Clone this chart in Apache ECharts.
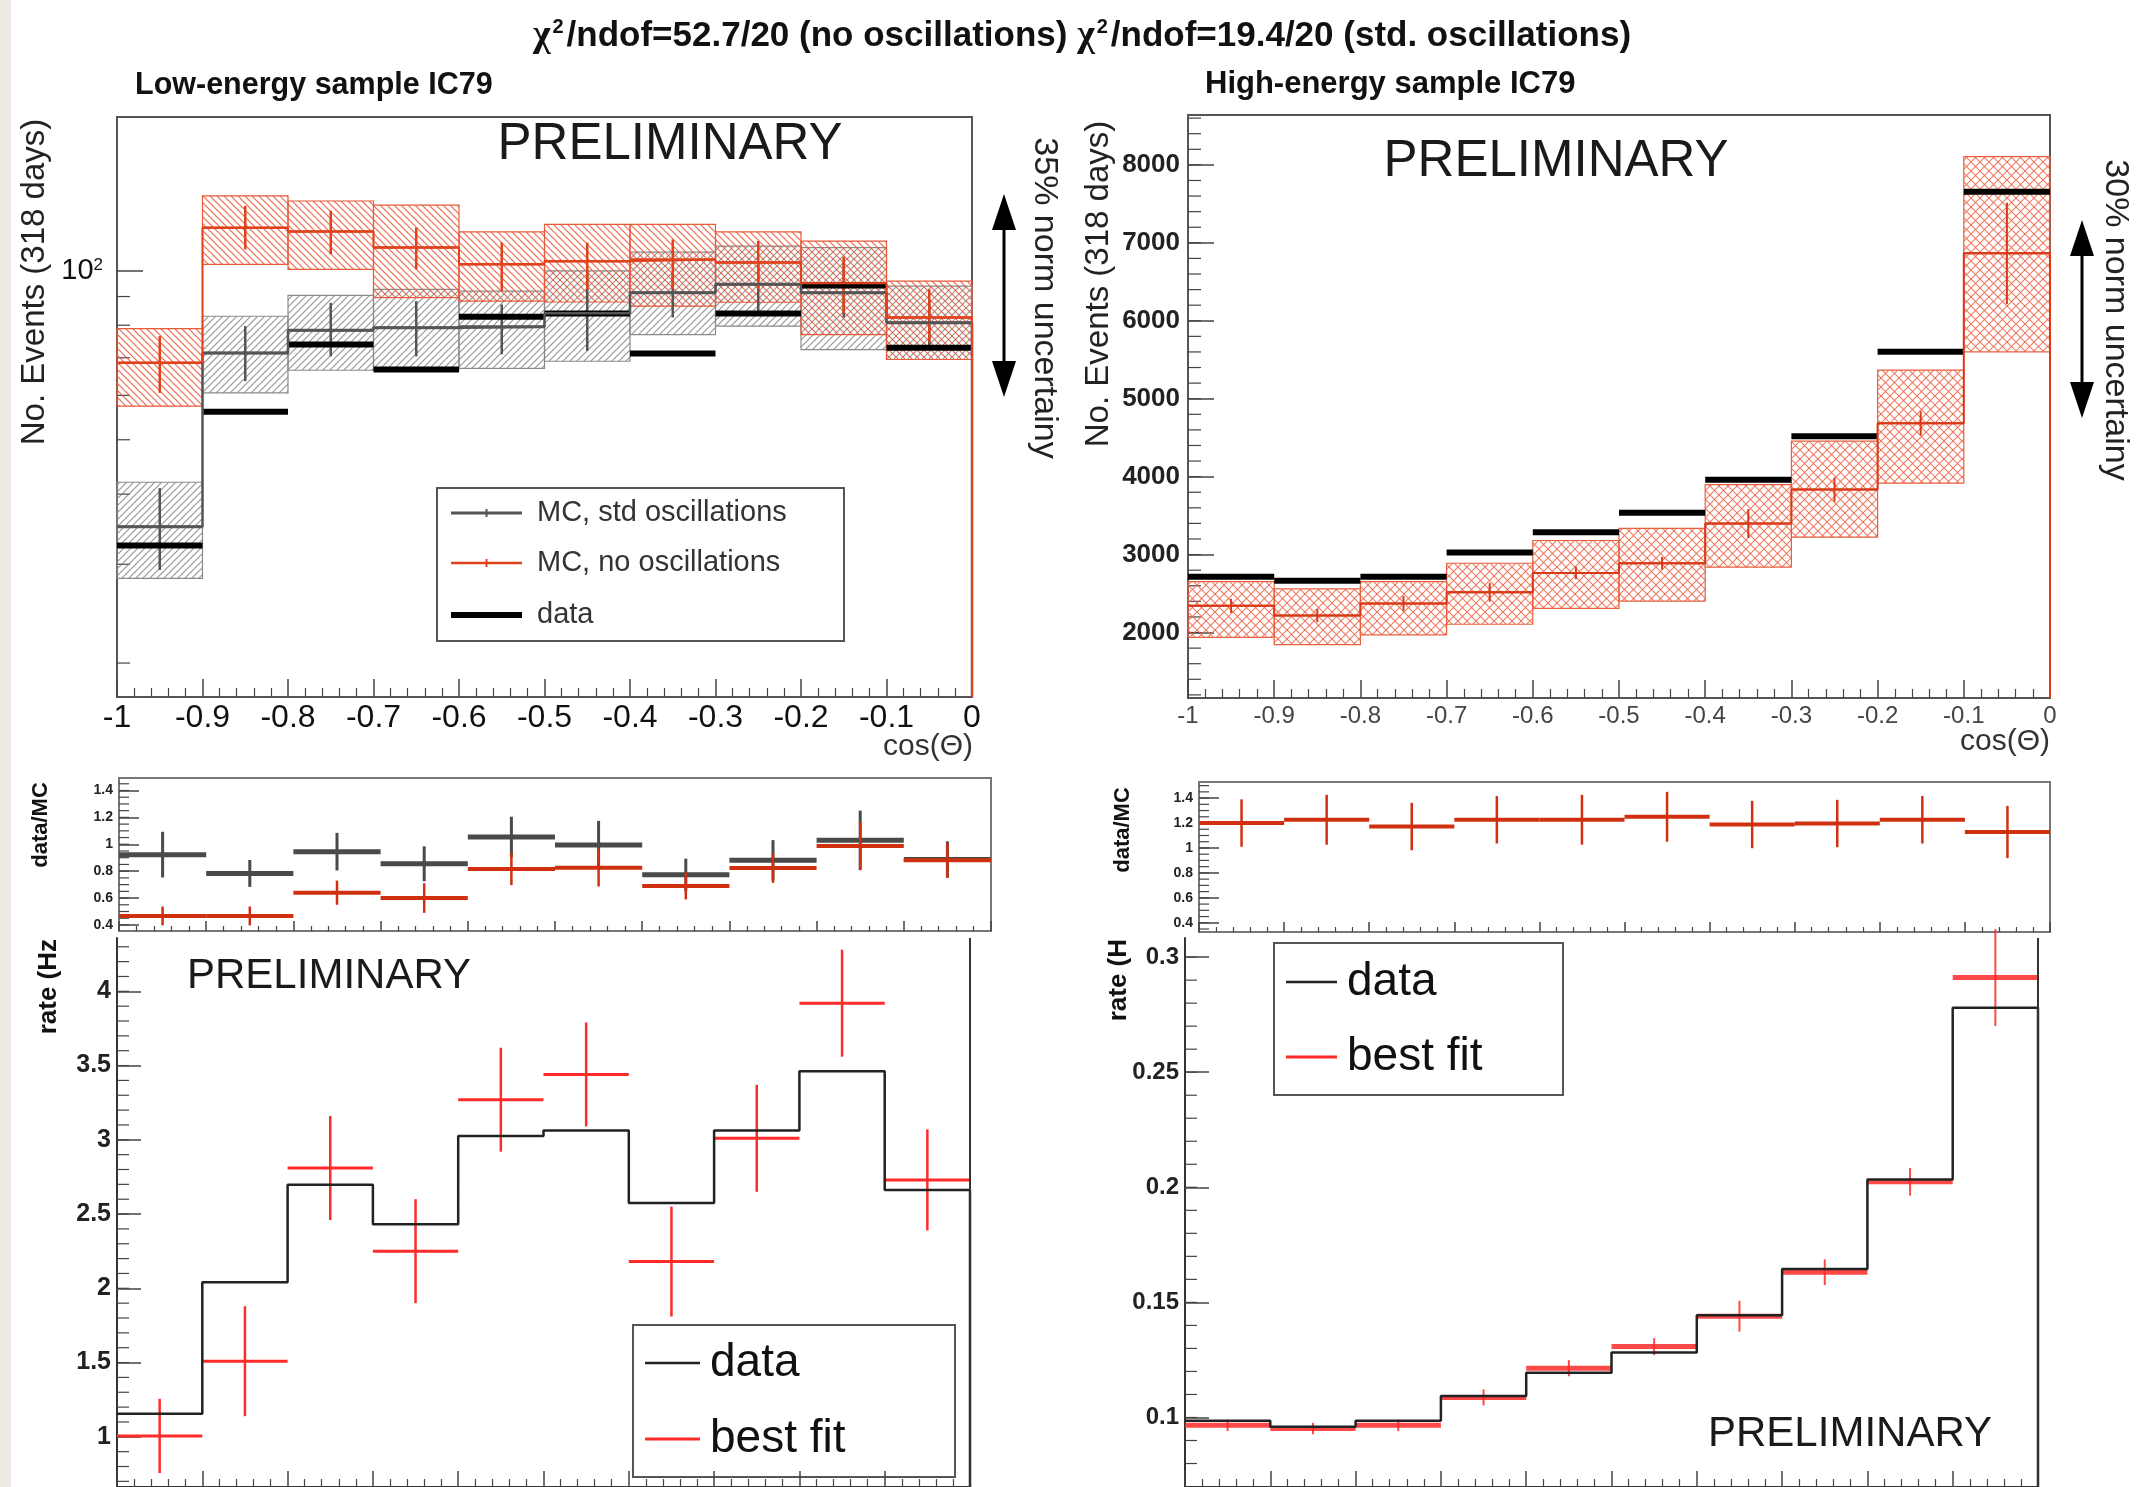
<!DOCTYPE html>
<html>
<head>
<meta charset="utf-8">
<title>IC79 zenith distributions</title>
<script src="https://cdn.jsdelivr.net/npm/echarts@6/dist/echarts.min.js"></script>
<style>
  html, body { margin: 0; padding: 0; background: #fff; }
  #chart { width: 2143px; height: 1487px; }
</style>
</head>
<body>
<div id="chart"></div>
<script>
// bin edges in cos(theta), shared by every panel
const binEdges = [-1, -0.9, -0.8, -0.7, -0.6, -0.5, -0.4, -0.3, -0.2, -0.1, 0];

// low-energy sample IC79 (events, log axis)
const lowData = [32.4, 56.1, 73.9, 66.7, 82.8, 83.9, 71.2, 83.9, 94.2, 72.9];
const lowStd = [35.0, 71.4, 78.4, 79.2, 79.5, 84.0, 91.4, 94.6, 91.4, 80.8];
const lowStdErrLo = [29.3, 63.6, 70.4, 70.4, 71.0, 72.0, 82.6, 84.3, 82.6, 73.5];
const lowStdErrHi = [41.0, 79.7, 87.7, 88.3, 87.1, 99.0, 99.0, 103.5, 103.5, 88.5];
const lowStdBandLo = [28.3, 60.6, 66.5, 66.5, 67.0, 69.0, 77.0, 79.7, 72.4, 69.5];
const lowStdBandHi = [42.0, 83.0, 90.4, 92.7, 92.0, 100.0, 108.0, 110.7, 110.0, 93.9];
const lowNoOsc = [68.6, 119.4, 117.5, 110.0, 102.7, 104.0, 104.8, 103.5, 95.0, 82.6];
const lowNoOscErrLo = [60.6, 109.2, 107.0, 100.6, 92.0, 92.7, 92.7, 92.7, 84.0, 74.5];
const lowNoOscErrHi = [76.5, 130.5, 128.0, 119.4, 112.3, 112.3, 113.8, 113.0, 106.0, 92.7];
const lowNoOscBandLo = [57.4, 102.7, 100.6, 89.6, 88.3, 88.0, 86.5, 87.9, 77.0, 69.5];
const lowNoOscBandHi = [78.9, 136.0, 133.2, 130.9, 117.3, 121.0, 121.0, 117.3, 113.0, 95.9];
const lowYLabels = [100];
const lowYMinor = [20, 30, 40, 50, 60, 70, 80, 90];

// high-energy sample IC79 (events)
const highData = [2715, 2665, 2715, 3026, 3287, 3536, 3959, 4518, 5602, 7655];
const highMc = [2342, 2218, 2373, 2516, 2765, 2889, 3399, 3834, 4684, 6865];
const highMcErr = [90, 85, 95, 120, 80, 80, 185, 155, 155, 650];
const highBandLo = [1938, 1845, 1969, 2106, 2311, 2404, 2839, 3225, 3918, 5602];
const highBandHi = [2653, 2560, 2653, 2889, 3181, 3337, 3897, 4456, 5367, 8106];
const highYLabels = [2000, 3000, 4000, 5000, 6000, 7000, 8000];

// data/MC ratios
const ratioLowStd = [0.923, 0.783, 0.945, 0.855, 1.055, 0.994, 0.773, 0.881, 1.03, 0.887];
const ratioLowStdErr = [0.17, 0.1, 0.14, 0.13, 0.15, 0.18, 0.12, 0.15, 0.22, 0.135];
const ratioLowNo = [0.467, 0.467, 0.64, 0.6, 0.816, 0.826, 0.69, 0.823, 0.987, 0.881];
const ratioLowNoErr = [0.07, 0.07, 0.09, 0.11, 0.12, 0.14, 0.1, 0.11, 0.18, 0.13];
const ratioHigh = [1.2, 1.226, 1.172, 1.226, 1.226, 1.25, 1.188, 1.196, 1.226, 1.128];
const ratioHighErr = [0.19, 0.2, 0.19, 0.19, 0.2, 0.2, 0.19, 0.19, 0.19, 0.21];
const ratioYLabels = [0.4, 0.6, 0.8, 1, 1.2, 1.4];

// rates (Hz)
const rateLowData = [1.156, 2.04, 2.697, 2.431, 3.025, 3.0625, 2.575, 3.0625, 3.4625, 2.6625];
const rateLowFit = [1.006, 1.509, 2.81, 2.25, 3.27, 3.44, 2.18, 3.01, 3.92, 2.73];
const rateLowFitErr = [0.25, 0.37, 0.35, 0.35, 0.35, 0.35, 0.37, 0.36, 0.36, 0.34];
const rateLowYLabels = [1, 1.5, 2, 2.5, 3, 3.5, 4];
const rateHighData = [0.0986, 0.096, 0.0986, 0.1093, 0.1194, 0.1282, 0.1444, 0.1645, 0.2034, 0.278];
const rateHighFit = [0.0966, 0.0952, 0.0966, 0.1087, 0.1214, 0.1308, 0.144, 0.1631, 0.2024, 0.2911];
const rateHighFitErr = [0.0025, 0.0025, 0.0025, 0.0035, 0.0035, 0.0037, 0.0067, 0.0056, 0.006, 0.021];
const rateHighYLabels = [0.1, 0.15, 0.2, 0.25, 0.3];

const FONT = 'Liberation Sans';

function steps(a, b, d) {
  const out = [];
  for (let v = a; v <= b + 1e-9; v += d) out.push(+v.toFixed(4));
  return out;
}

// hatch tiles for the uncertainty bands
function makeHatch(color, size, lw, dirs) {
  const c = document.createElement('canvas');
  c.width = size; c.height = size;
  const g = c.getContext('2d');
  g.strokeStyle = color; g.lineWidth = lw;
  for (const d of dirs) {
    for (let k = -1; k <= 1; k++) {
      g.beginPath();
      if (d === '/') { g.moveTo(k * size - 1, size + 1); g.lineTo(k * size + size + 1, -1); }
      else { g.moveTo(k * size - 1, -1); g.lineTo(k * size + size + 1, size + 1); }
      g.stroke();
    }
  }
  return c;
}
const hatchRed = makeHatch('rgba(236,90,60,0.9)', 7, 1.2, ['\\']);
const hatchGray = makeHatch('rgba(120,120,120,0.8)', 7, 1.1, ['/']);
const hatchCross = makeHatch('rgba(236,100,70,0.85)', 9, 1.1, ['/', '\\']);

const grids = [], xAxes = [], yAxes = [], series = [], frameLines = [];

// short y ticks on the left edge, placed through the panel's own y scale
function minorTicks(ax, values, len) {
  return {
    type: 'custom', xAxisIndex: ax.x, yAxisIndex: ax.y, silent: true, clip: false, z: 1,
    data: values.map(v => [-1, v]), encode: { x: 0, y: 1 },
    renderItem(params, api) {
      const p = api.coord([api.value(0), api.value(1)]);
      return { type: 'line', shape: { x1: p[0], y1: p[1], x2: p[0] + len, y2: p[1] }, style: { stroke: '#444', lineWidth: 1.2 } };
    }
  };
}

function addPanel(p) {
  const gi = grids.length;
  grids.push({
    left: p.left, top: p.top, width: p.width, height: p.height,
    show: !!p.frame, borderColor: p.frame || '#555', borderWidth: 2,
    backgroundColor: 'rgba(0,0,0,0)', containLabel: false, outerBoundsMode: 'none'
  });
  const xi = xAxes.length;
  xAxes.push({
    gridIndex: gi, type: 'value', position: 'bottom', min: -1, max: 0, interval: 0.1,
    axisLine: { show: !p.frame, onZero: false, lineStyle: { color: '#333', width: 2 } },
    axisTick: { inside: true, length: p.xTick, lineStyle: { color: '#444', width: 1.5 } },
    minorTick: { show: true, splitNumber: 5, length: p.xTick / 2, lineStyle: { color: '#444', width: 1.2 } },
    splitLine: { show: false }, minorSplitLine: { show: false },
    axisLabel: p.xFont ? {
      fontFamily: FONT, fontSize: p.xFont, color: p.xColor || '#111', margin: p.xMargin,
      formatter: v => String(+(+v).toFixed(1))
    } : { show: false }
  });
  const yi = yAxes.length;
  yAxes.push({
    gridIndex: gi, type: p.yType || 'value', position: 'left', min: p.min, max: p.max,
    splitLine: { show: false },
    axisLine: { show: !p.frame, onZero: false, lineStyle: { color: '#333', width: 2 } },
    axisTick: { inside: true, length: p.yTick, customValues: p.yLabels, lineStyle: { color: '#444', width: 1.5 } },
    axisLabel: {
      customValues: p.yLabels, fontFamily: FONT, fontSize: p.yFont, fontWeight: p.yWeight || 'bold', color: '#222',
      margin: p.yMargin, formatter: p.yFormat || (v => String(+(+v).toFixed(2))), rich: p.rich
    }
  });
  if (p.rightLine) {
    frameLines.push({
      type: 'line', z: 5, shape: { x1: p.left + p.width, y1: p.top, x2: p.left + p.width, y2: p.top + p.height },
      style: { stroke: '#333', lineWidth: 2 }
    });
  }
  const ax = { x: xi, y: yi, min: p.min };
  series.push(minorTicks(ax, p.yMinor, p.yTick / 2));
  return ax;
}

function bins(vals, a, b) {
  return vals.map((v, i) => [binEdges[i], binEdges[i + 1], v, a ? a[i] : v, b ? b[i] : v]);
}

function band(ax, lo, hi, pattern, stroke) {
  return {
    type: 'custom', xAxisIndex: ax.x, yAxisIndex: ax.y, silent: true,
    data: bins(lo, hi), encode: { x: [0, 1], y: [2, 3] },
    renderItem(params, api) {
      const a = api.coord([api.value(0), api.value(3)]);
      const b = api.coord([api.value(1), api.value(2)]);
      return {
        type: 'rect', shape: { x: a[0], y: a[1], width: b[0] - a[0], height: b[1] - a[1] },
        style: { fill: { image: pattern, repeat: 'repeat' }, stroke, lineWidth: 1.2 }
      };
    }
  };
}

function cross(ax, vals, lo, hi, color, hw, vw) {
  return {
    type: 'custom', xAxisIndex: ax.x, yAxisIndex: ax.y, silent: true,
    data: bins(vals, lo, hi), encode: { x: [0, 1], y: [2, 3, 4] },
    renderItem(params, api) {
      const l = api.coord([api.value(0), api.value(2)]);
      const r = api.coord([api.value(1), api.value(2)]);
      const xm = (l[0] + r[0]) / 2;
      const yb = api.coord([api.value(0), api.value(3)])[1];
      const yt = api.coord([api.value(0), api.value(4)])[1];
      return {
        type: 'group', children: [
          { type: 'line', shape: { x1: l[0], y1: l[1], x2: r[0], y2: r[1] }, style: { stroke: color, lineWidth: hw } },
          { type: 'line', shape: { x1: xm, y1: yt, x2: xm, y2: yb }, style: { stroke: color, lineWidth: vw } }
        ]
      };
    }
  };
}

function level(ax, vals, color, w) {
  return {
    type: 'custom', xAxisIndex: ax.x, yAxisIndex: ax.y, silent: true,
    data: bins(vals), encode: { x: [0, 1], y: 2 },
    renderItem(params, api) {
      const l = api.coord([api.value(0), api.value(2)]);
      const r = api.coord([api.value(1), api.value(2)]);
      return { type: 'line', shape: { x1: l[0], y1: l[1], x2: r[0], y2: r[1] }, style: { stroke: color, lineWidth: w } };
    }
  };
}

function stepLine(ax, vals, color, w) {
  const pts = vals.map((v, i) => [binEdges[i], v]);
  pts.push([0, vals[vals.length - 1]], [0, ax.min]);
  return {
    type: 'line', step: 'end', xAxisIndex: ax.x, yAxisIndex: ax.y, data: pts, symbol: 'none',
    clip: false, silent: true, lineStyle: { color, width: w }
  };
}

const plusMinus = (vals, err, s) => vals.map((v, i) => v + s * err[i]);

// panels
const tl = addPanel({
  left: 117, top: 117, width: 855, height: 580, frame: '#555', yType: 'log', min: 17.4, max: 188,
  xTick: 18, xFont: 32, xMargin: 5, yTick: 26, yFont: 28, yWeight: 'normal', yMargin: 14, yLabels: lowYLabels, yMinor: lowYMinor,
  yFormat: () => '{a|10}{b|2}',
  rich: {
    a: { fontSize: 29, fontFamily: FONT, fontWeight: 'normal', color: '#111' },
    b: { fontSize: 17, fontFamily: FONT, fontWeight: 'normal', color: '#111', verticalAlign: 'top' }
  }
});
const tr = addPanel({
  left: 1188, top: 115, width: 862, height: 583, frame: '#555', min: 1160, max: 8640,
  xTick: 18, xFont: 24, xColor: '#444', xMargin: 6, yTick: 26, yFont: 26, yMargin: 8,
  yLabels: highYLabels, yMinor: steps(1200, 8600, 200)
});
const rl = addPanel({
  left: 119, top: 778, width: 872, height: 153, frame: '#777', min: 0.355, max: 1.493,
  xTick: 10, yTick: 20, yFont: 14, yMargin: 6, yLabels: ratioYLabels, yMinor: steps(0.4, 1.45, 0.05)
});
const rr = addPanel({
  left: 1199, top: 782, width: 851, height: 150, frame: '#777', min: 0.326, max: 1.529,
  xTick: 10, yTick: 20, yFont: 14, yMargin: 6, yLabels: ratioYLabels, yMinor: steps(0.35, 1.5, 0.05)
});
const bl = addPanel({
  left: 117, top: 938, width: 853, height: 549, min: 0.662, max: 4.359, rightLine: true,
  xTick: 16, yTick: 24, yFont: 25, yMargin: 6, yLabels: rateLowYLabels, yMinor: steps(0.7, 4.3, 0.1)
});
const br = addPanel({
  left: 1185, top: 938, width: 853, height: 549, min: 0.0698, max: 0.3083, rightLine: true,
  xTick: 16, yTick: 24, yFont: 24, yMargin: 6, yLabels: rateHighYLabels, yMinor: steps(0.08, 0.3, 0.01)
});

// top-left: low-energy events
const GRAY = '#555', ORANGE = '#e0431c';
series.push(band(tl, lowStdBandLo, lowStdBandHi, hatchGray, '#8a8a8a'));
series.push(band(tl, lowNoOscBandLo, lowNoOscBandHi, hatchRed, '#e85a3a'));
series.push(stepLine(tl, lowStd, GRAY, 2.5));
series.push(cross(tl, lowStd, lowStdErrLo, lowStdErrHi, GRAY, 3, 2.5));
series.push(stepLine(tl, lowNoOsc, ORANGE, 2));
series.push(cross(tl, lowNoOsc, lowNoOscErrLo, lowNoOscErrHi, ORANGE, 2.5, 2.5));
series.push(level(tl, lowData, '#000', 6));

// top-right: high-energy events
const RED2 = '#d83a18';
series.push(band(tr, highBandLo, highBandHi, hatchCross, '#e8603e'));
series.push(stepLine(tr, highMc, RED2, 2));
series.push(cross(tr, highMc, plusMinus(highMc, highMcErr, -1), plusMinus(highMc, highMcErr, 1), RED2, 2, 2));
series.push(level(tr, highData, '#000', 6));

// ratio panels
series.push(cross(rl, ratioLowStd, plusMinus(ratioLowStd, ratioLowStdErr, -1), plusMinus(ratioLowStd, ratioLowStdErr, 1), '#4a4a4a', 5, 3));
series.push(cross(rl, ratioLowNo, plusMinus(ratioLowNo, ratioLowNoErr, -1), plusMinus(ratioLowNo, ratioLowNoErr, 1), '#d03010', 4, 2.5));
series.push(cross(rr, ratioHigh, plusMinus(ratioHigh, ratioHighErr, -1), plusMinus(ratioHigh, ratioHighErr, 1), '#d03010', 4, 2.5));

// rate panels
const FIT = '#ff2a2a';
series.push(stepLine(bl, rateLowData, '#222', 2.5));
series.push(cross(bl, rateLowFit, plusMinus(rateLowFit, rateLowFitErr, -1), plusMinus(rateLowFit, rateLowFitErr, 1), FIT, 3, 2.5));
series.push(cross(br, rateHighFit, plusMinus(rateHighFit, rateHighFitErr, -1), plusMinus(rateHighFit, rateHighFitErr, 1), 'rgba(255,40,40,0.85)', 5, 2));
series.push(stepLine(br, rateHighData, '#222', 2.5));

// annotations
function txt(text, x, y, o) {
  return {
    type: 'text', x, y, rotation: o.rot || 0, z: 20,
    style: {
      text, fill: o.color || '#111', fontSize: o.size, fontWeight: o.weight || 'normal',
      fontFamily: o.family || FONT, align: o.align || 'left', verticalAlign: 'middle'
    }
  };
}
function arrow(x, y1, y2) {
  return {
    type: 'group', z: 20, children: [
      { type: 'line', shape: { x1: x, y1: y1 + 30, x2: x, y2: y2 - 30 }, style: { stroke: '#000', lineWidth: 3 } },
      { type: 'polygon', shape: { points: [[x, y1], [x - 12, y1 + 36], [x + 12, y1 + 36]] }, style: { fill: '#000' } },
      { type: 'polygon', shape: { points: [[x, y2], [x - 12, y2 - 36], [x + 12, y2 - 36]] }, style: { fill: '#000' } }
    ]
  };
}
function legendBox(x, y, w, h, size, entries) {
  const children = [{ type: 'rect', shape: { x, y, width: w, height: h }, style: { fill: '#fff', stroke: '#555', lineWidth: 2 } }];
  entries.forEach(e => {
    children.push({ type: 'line', shape: { x1: e.x1, y1: e.y, x2: e.x2, y2: e.y }, style: { stroke: e.color, lineWidth: e.w } });
    if (e.tick) {
      const xm = (e.x1 + e.x2) / 2;
      children.push({ type: 'line', shape: { x1: xm, y1: e.y - 4, x2: xm, y2: e.y + 4 }, style: { stroke: e.color, lineWidth: 2 } });
    }
    children.push({ type: 'text', x: e.tx, y: e.y, style: { text: e.label, fontSize: size, fontFamily: FONT, fill: e.tc || '#111', align: 'left', verticalAlign: 'middle' } });
  });
  return { type: 'group', z: 50, children };
}

const graphics = [
  { type: 'rect', z: 1, shape: { x: 0, y: 0, width: 11, height: 1487 }, style: { fill: '#eeeae3' } },
  {
    type: 'text', x: 1082, y: 36, z: 20,
    style: {
      text: '{c|χ}{s|2}{t|/ndof=52.7/20 (no oscillations) }{c|χ}{s|2}{t|/ndof=19.4/20 (std. oscillations)}',
      align: 'center', verticalAlign: 'middle',
      rich: {
        c: { fontFamily: 'Liberation Serif', fontSize: 38, fontWeight: 'bold', fill: '#111' },
        s: { fontFamily: FONT, fontSize: 20, fontWeight: 'bold', fill: '#111', verticalAlign: 'top', padding: [0, 3, 0, 2] },
        t: { fontFamily: FONT, fontSize: 35, fontWeight: 'bold', fill: '#111' }
      }
    }
  },
  txt('Low-energy sample IC79', 135, 86, { size: 30.5, weight: 'bold' }),
  txt('High-energy sample IC79', 1205, 84, { size: 31, weight: 'bold' }),
  txt('PRELIMINARY', 670, 145, { size: 51, align: 'center', color: '#1a1a1a' }),
  txt('PRELIMINARY', 1556, 162, { size: 51, align: 'center', color: '#1a1a1a' }),
  txt('PRELIMINARY', 329, 976, { size: 42, align: 'center', color: '#1a1a1a' }),
  txt('PRELIMINARY', 1850, 1434, { size: 42, align: 'center', color: '#1a1a1a' }),
  txt('cos(Θ)', 973, 747, { size: 30, align: 'right', color: '#333' }),
  txt('cos(Θ)', 2050, 742, { size: 30, align: 'right', color: '#333' }),
  txt('No. Events (318 days)', 35, 282, { size: 33, align: 'center', rot: Math.PI / 2, color: '#222' }),
  txt('No. Events (318 days)', 1099, 284, { size: 33, align: 'center', rot: Math.PI / 2, color: '#222' }),
  txt('35% norm uncertainy', 1044, 298, { size: 34, align: 'center', rot: -Math.PI / 2, color: '#222' }),
  txt('30% norm uncertainy', 2115, 320, { size: 34, align: 'center', rot: -Math.PI / 2, color: '#222' }),
  arrow(1004, 194, 397),
  arrow(2082, 220, 418),
  txt('data/MC', 41, 825, { size: 22, weight: 'bold', align: 'center', rot: Math.PI / 2 }),
  txt('data/MC', 1123, 830, { size: 22, weight: 'bold', align: 'center', rot: Math.PI / 2 }),
  txt('rate (Hz', 49, 939, { size: 26, weight: 'bold', align: 'right', rot: Math.PI / 2 }),
  txt('rate (H', 1119, 939, { size: 26, weight: 'bold', align: 'right', rot: Math.PI / 2 }),
  legendBox(437, 488, 407, 153, 29, [
    { x1: 451, x2: 522, y: 513, color: GRAY, w: 3, tick: true, tx: 537, label: 'MC, std oscillations', tc: '#333' },
    { x1: 451, x2: 522, y: 563, color: ORANGE, w: 2.5, tick: true, tx: 537, label: 'MC, no oscillations', tc: '#333' },
    { x1: 451, x2: 522, y: 615, color: '#000', w: 6, tx: 537, label: 'data', tc: '#333' }
  ]),
  legendBox(633, 1325, 322, 152, 46, [
    { x1: 645, x2: 700, y: 1363, color: '#222', w: 2.5, tx: 710, label: 'data' },
    { x1: 645, x2: 700, y: 1439, color: FIT, w: 3, tx: 710, label: 'best fit' }
  ]),
  legendBox(1274, 943, 289, 152, 46, [
    { x1: 1286, x2: 1337, y: 982, color: '#222', w: 2.5, tx: 1347, label: 'data' },
    { x1: 1286, x2: 1337, y: 1057, color: FIT, w: 3, tx: 1347, label: 'best fit' }
  ])
].concat(frameLines);

const chart = echarts.init(document.getElementById('chart'), null, { renderer: 'canvas' });
chart.setOption({
  backgroundColor: '#fff',
  animation: false,
  grid: grids,
  xAxis: xAxes,
  yAxis: yAxes,
  series: series,
  graphic: { elements: graphics }
});
</script>
</body>
</html>
